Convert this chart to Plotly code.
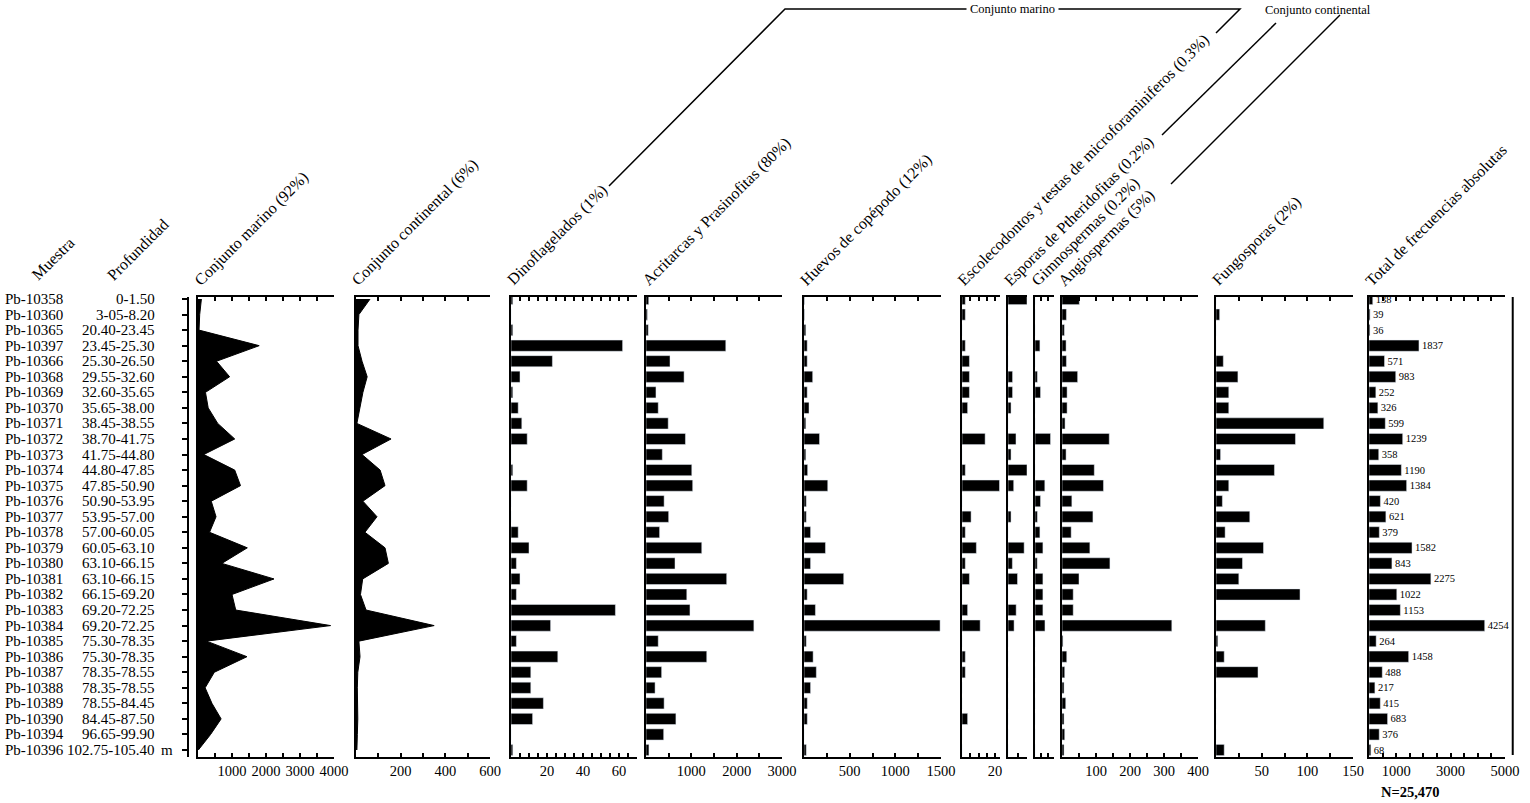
import plotly.graph_objects as go

W, H = 1530, 803
W_VISTA = 1515  # ancho con el que el navegador dibuja realmente la figura

muestras = ["Pb-10358", "Pb-10360", "Pb-10365", "Pb-10397", "Pb-10366", "Pb-10368", "Pb-10369",
            "Pb-10370", "Pb-10371", "Pb-10372", "Pb-10373", "Pb-10374", "Pb-10375", "Pb-10376",
            "Pb-10377", "Pb-10378", "Pb-10379", "Pb-10380", "Pb-10381", "Pb-10382", "Pb-10383",
            "Pb-10384", "Pb-10385", "Pb-10386", "Pb-10387", "Pb-10388", "Pb-10389", "Pb-10390",
            "Pb-10394", "Pb-10396"]
profundidad = ["0-1.50", "3-05-8.20", "20.40-23.45", "23.45-25.30", "25.30-26.50", "29.55-32.60",
               "32.60-35.65", "35.65-38.00", "38.45-38.55", "38.70-41.75", "41.75-44.80",
               "44.80-47.85", "47.85-50.90", "50.90-53.95", "53.95-57.00", "57.00-60.05",
               "60.05-63.10", "63.10-66.15", "63.10-66.15", "66.15-69.20", "69.20-72.25",
               "69.20-72.25", "75.30-78.35", "75.30-78.35", "78.35-78.55", "78.35-78.55",
               "78.55-84.45", "84.45-87.50", "96.65-99.90", "102.75-105.40"]

marino = [100, 50, 30, 1800, 545, 930, 220, 300, 580, 1080, 170, 1080, 1250, 390, 530,
          340, 1450, 700, 2235, 1000, 1110, 3900, 250, 1440, 480, 210, 410, 680, 370, 10]
continental = [63, 13, 9, 9, 27, 50, 31, 18, 4, 157, 27, 108, 130, 31, 94,
               40, 130, 145, 30, 20, 45, 350, 13, 18, 8, 6, 8, 8, 6, 4]
dinoflagelados = [1, 0, 1, 62, 23, 5, 1, 4, 6, 9, 0, 1, 9, 0, 0,
                  4, 10, 3, 5, 3, 58, 22, 3, 26, 11, 11, 18, 12, 0, 1]
acritarcas = [60, 30, 50, 1760, 530, 840, 220, 270, 490, 870, 360, 1010, 1030, 400, 500,
              300, 1230, 640, 1780, 900, 970, 2380, 270, 1340, 345, 200, 400, 660, 390, 65]
huevos = [5, 5, 20, 35, 35, 95, 35, 55, 20, 170, 20, 40, 260, 25, 25,
          72, 235, 72, 435, 35, 125, 1490, 25, 100, 135, 72, 36, 36, 0, 25]
escolecodontos = [2, 2, 0, 2, 4.5, 4.5, 4.5, 3.4, 0, 14, 0, 2, 22.7, 0, 5.5,
                  2, 8.7, 2, 4.5, 0, 3.4, 11, 0, 2, 2, 0, 0, 3.4, 0, 0]
esporas = [10, 0, 0, 0, 0, 2.4, 2.4, 1.6, 0, 4.2, 1.6, 10, 3, 0, 1.6,
           0, 8.5, 2.3, 5, 0, 4.3, 3.2, 0, 0, 0, 0, 0, 0, 0, 0]
gimnospermas = [0, 0, 0, 3.1, 0, 1.5, 3.5, 0, 0, 9.8, 0, 0, 6.2, 3.5, 1.5,
                3.1, 5, 1.4, 5, 5, 5, 6.3, 0, 0, 0, 0, 0, 0, 0, 0]
angiospermas = [51, 13, 7, 12, 13, 46, 15, 15, 9, 139, 12, 95, 122, 29, 91,
                27, 82, 141, 50, 33, 33, 323, 3, 14, 8, 6, 11, 6, 8, 6]
fungosporas = [0, 4, 0, 0, 8, 24, 14, 14, 118, 87, 5, 64, 14, 7, 37,
               10, 52, 29, 25, 92, 0, 54, 2, 9, 46, 0, 0, 0, 0, 9]
total = [138, 39, 36, 1837, 571, 983, 252, 326, 599, 1239, 358, 1190, 1384, 420, 621,
         379, 1582, 843, 2275, 1022, 1153, 4254, 264, 1458, 488, 217, 415, 683, 376, 68]

titulos = ["Conjunto marino (92%)", "Conjunto continental (6%)", "Dinoflagelados (1%)",
           "Acritarcas y Prasinofitas (80%)", "Huevos de copépodo (12%)",
           "Escolecodontos y testas de microforaminiferos (0.3%)",
           "Esporas de Ptheridofitas (0.2%)", "Gimnospermas (0.2%)", "Angiospermas (5%)",
           "Fungosporas (2%)", "Total de frecuencias absolutas"]

# paneles: (x0 px, x1 px, rango, paso de ticks, etiquetas)
paneles = [
    (198, 334, 4000, 500, [1000, 2000, 3000, 4000]),
    (356, 490, 600, 100, [200, 400, 600]),
    (511, 637, 70, 5, [20, 40, 60]),
    (646, 782, 3000, 500, [1000, 2000, 3000]),
    (804, 941, 1500, 250, [500, 1000, 1500]),
    (962, 1000, 23, 5, [20]),
    (1008, 1027, 10, 5, []),
    (1035, 1054, 12, 4, []),
    (1062, 1198, 400, 50, [100, 200, 300, 400]),
    (1216, 1353, 150, 25, [50, 100, 150]),
    (1369, 1505, 5000, 500, [1000, 3000, 5000]),
]
series = [marino, continental, dinoflagelados, acritarcas, huevos, escolecodontos,
          esporas, gimnospermas, angiospermas, fungosporas, total]

FONT = "Liberation Serif"
filas = list(range(len(muestras)))
Y_TOP, Y_BOT = 297, 757
yrange = [29.45, -0.13]


def px(x):
    return min(x / W_VISTA, 0.9985)


def py(y):
    return 1 - y / H


fig = go.Figure()
layout = dict(width=W, height=H, margin=dict(l=0, r=0, t=0, b=0), autosize=False,
              paper_bgcolor="white", plot_bgcolor="white", showlegend=False,
              font=dict(family=FONT, size=14, color="black"), bargap=0.3)

for i, ((x0, x1, rmax, paso, etiquetas), vals) in enumerate(zip(paneles, series)):
    n = i + 1
    xa = "x" if n == 1 else "x%d" % n
    ya = "y" if n == 1 else "y%d" % n
    if n <= 2:
        fig.add_trace(go.Scatter(x=vals, y=filas, mode="lines", fill="tozerox",
                                 line=dict(color="black", width=1), fillcolor="black",
                                 xaxis=xa, yaxis=ya, hoverinfo="skip"))
    elif n == 11:
        fig.add_trace(go.Bar(x=vals, y=filas, orientation="h", marker_color="black", width=0.72,
                             text=[str(v) for v in vals], textposition="outside",
                             textfont=dict(family=FONT, size=10.5, color="black"),
                             cliponaxis=False, constraintext="none",
                             xaxis=xa, yaxis=ya))
    else:
        fig.add_trace(go.Bar(x=vals, y=filas, orientation="h", marker_color="black", width=0.72,
                             xaxis=xa, yaxis=ya))
    tv = list(range(0, rmax + 1, paso))
    tt = [str(v) if v in etiquetas else "" for v in tv]
    layout["xaxis" if n == 1 else "xaxis%d" % n] = dict(
        domain=[px(x0), px(x1)], anchor=ya, range=[0, rmax], showgrid=False, zeroline=False,
        showline=True, linewidth=2, linecolor="black", mirror="ticks",
        ticks="inside", ticklen=4, tickwidth=1.5, tickcolor="black",
        tickvals=tv, ticktext=tt, tickfont=dict(family=FONT, size=14.5), fixedrange=True)
    layout["yaxis" if n == 1 else "yaxis%d" % n] = dict(
        domain=[py(Y_BOT), py(Y_TOP)], anchor=xa, range=yrange, showgrid=False,
        zeroline=False, showline=True, linewidth=2, linecolor="black",
        showticklabels=False, ticks="", fixedrange=True)

# eje de muestras con marcas a la izquierda
fig.add_trace(go.Scatter(x=[None], y=[None], xaxis="x", yaxis="y12", hoverinfo="skip"))
layout["yaxis12"] = dict(overlaying="y", anchor="free", position=px(188), side="left",
                         range=yrange, showgrid=False, zeroline=False, showline=True,
                         linewidth=2, linecolor="black", ticks="outside", ticklen=5,
                         tickwidth=2, tickcolor="black", tickvals=filas,
                         showticklabels=False, fixedrange=True)

annotations = []
for i in filas:
    annotations.append(dict(x=px(3), y=i, xref="paper", yref="y", text=muestras[i],
                            xanchor="left", yanchor="middle", showarrow=False,
                            font=dict(family=FONT, size=15)))
    annotations.append(dict(x=px(157), y=i, xref="paper", yref="y", text=profundidad[i],
                            xanchor="right", yanchor="middle", showarrow=False,
                            font=dict(family=FONT, size=15)))
annotations.append(dict(x=px(159), y=filas[-1], xref="paper", yref="y", text="m",
                        xanchor="left", yanchor="middle", showarrow=False,
                        font=dict(family=FONT, size=15)))

# titulos inclinados
inicios = [(38, 286, "Muestra"), (113, 286, "Profundidad")]
inicios += [(p[0] + 2, 292, t) for p, t in zip(paneles, titulos)]
for x, y, t in inicios:
    annotations.append(dict(x=px(x - 12), y=py(y), xref="paper", yref="paper", text=t,
                            textangle=-45, xanchor="left", yanchor="bottom", showarrow=False,
                            font=dict(family=FONT, size=16)))

annotations.append(dict(x=px(1012), y=py(9), xref="paper", yref="paper", text="Conjunto marino",
                        xanchor="center", yanchor="middle", showarrow=False, borderpad=3,
                        font=dict(family=FONT, size=12.5), bgcolor="white"))
annotations.append(dict(x=px(1318), y=py(10), xref="paper", yref="paper",
                        text="Conjunto continental", xanchor="center", yanchor="middle",
                        showarrow=False, font=dict(family=FONT, size=12.5)))
annotations.append(dict(x=px(1410), y=py(792), xref="paper", yref="paper", text="<b>N=25,470</b>",
                        xanchor="center", yanchor="middle", showarrow=False,
                        font=dict(family=FONT, size=14.5)))


def linea(pts):
    path = "M " + " L ".join("%f,%f" % (px(a), py(b)) for a, b in pts)
    return dict(type="path", path=path, xref="paper", yref="paper", layer="below",
                line=dict(color="black", width=1.5))


shapes = [
    linea([(609, 186), (785, 9), (1240, 9), (1216, 33)]),
    linea([(1162, 135), (1276, 23)]),
    linea([(1171, 184), (1340, 15)]),
    dict(type="line", xref="paper", yref="paper", x0=px(1527), x1=px(1527),
         y0=py(755), y1=py(297), line=dict(color="black", width=2)),
]

layout["annotations"] = annotations
layout["shapes"] = shapes
fig.update_layout(**layout)
fig.write_html("out.html", config={"responsive": False, "displayModeBar": False},
               post_script="document.body.style.margin='0';document.body.style.overflow='hidden';")
